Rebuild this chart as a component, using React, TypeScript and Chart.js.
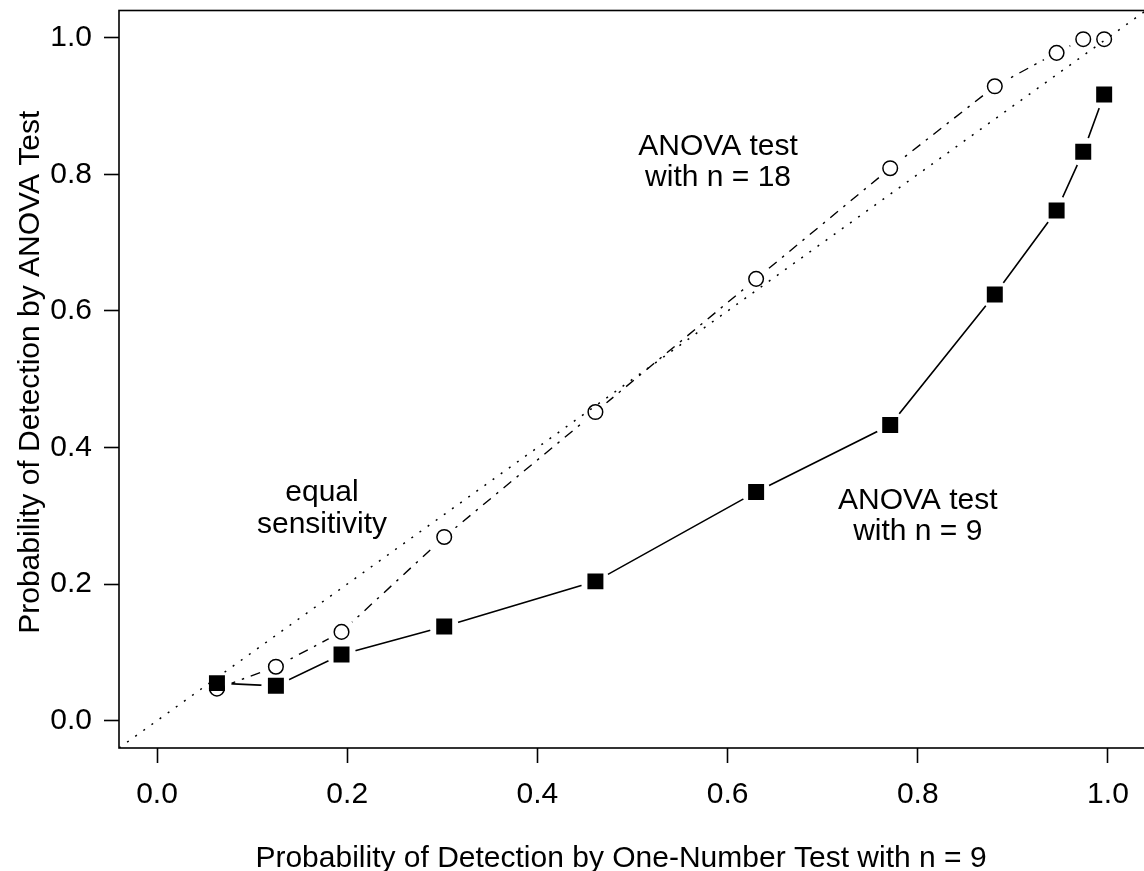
import React, { useEffect, useRef } from "react";
import { Chart, registerables } from "chart.js";

Chart.register(...registerables);

// ---- data ----
const oneNumberN9 = [0.063, 0.125, 0.194, 0.302, 0.461, 0.630, 0.771, 0.881, 0.946, 0.974, 0.996];
const anovaN9 = [0.055, 0.051, 0.097, 0.138, 0.204, 0.335, 0.433, 0.624, 0.747, 0.833, 0.917];
const anovaN18 = [0.047, 0.079, 0.130, 0.269, 0.452, 0.647, 0.809, 0.929, 0.978, 0.998, 0.998];
const xTickValues = [0, 0.2, 0.4, 0.6, 0.8, 1.0];
const yTickValues = [0, 0.2, 0.4, 0.6, 0.8, 1.0];
const axisMin = -0.04;
const axisMax = 1.04;
const equalLine = [axisMin, axisMax];
const xTitle = "Probability of Detection by One-Number Test with n = 9";
const yTitle = "Probability of Detection by ANOVA Test";
const labelN18 = ["ANOVA test", "with n = 18"];
const labelN9 = ["ANOVA test", "with n = 9"];
const labelEqual = ["equal", "sensitivity"];

const FONT = '"Liberation Sans", Arial, Helvetica, sans-serif';
const SHIFT = 4; // canvas is placed 4px above the page top

export default function App() {
  const ref = useRef<HTMLCanvasElement | null>(null);

  useEffect(() => {
    const canvas = ref.current;
    if (!canvas) return;

    const toPts = (xs: number[], ys: number[]) => xs.map((x, i) => ({ x, y: ys[i] }));

    const annotations = [
      { lines: labelN18, x: 0.590, y: 0.821 },
      { lines: labelN9, x: 0.800, y: 0.303 },
      { lines: labelEqual, x: 0.1735, y: 0.314 },
    ];

    const framePlugin = {
      id: "frameAndText",
      afterDraw(chart: any) {
        const { ctx, chartArea: a, scales } = chart;
        ctx.save();
        ctx.strokeStyle = "#000";
        ctx.lineWidth = 1.6;
        ctx.strokeRect(a.left, a.top, a.right - a.left, a.bottom - a.top);

        ctx.fillStyle = "#000";
        ctx.font = `30px ${FONT}`;
        ctx.textAlign = "center";
        ctx.textBaseline = "alphabetic";
        const lineGap = 31.5;
        for (const ann of annotations) {
          const cx = scales.x.getPixelForValue(ann.x);
          const cy = scales.y.getPixelForValue(ann.y);
          const n = ann.lines.length;
          ann.lines.forEach((t: string, i: number) => {
            ctx.fillText(t, cx, cy + (i - (n - 1) / 2) * lineGap + 10.7);
          });
        }

        ctx.fillText(xTitle, 621, 867 + SHIFT);
        ctx.save();
        ctx.translate(39, (a.top + a.bottom) / 2 - 7);
        ctx.rotate(-Math.PI / 2);
        ctx.fillText(yTitle, 0, 0);
        ctx.restore();
        ctx.restore();
      },
    };

    const tickFont = { family: FONT, size: 30 };

    const chart = new Chart(canvas, {
      type: "scatter",
      data: {
        datasets: [
          {
            label: "n18 markers",
            data: toPts(oneNumberN9, anovaN18),
            showLine: false,
            pointStyle: "circle",
            pointRadius: 7.3,
            borderWidth: 1.5,
            borderColor: "#000",
            backgroundColor: "rgba(0,0,0,0)",
            order: 1,
          },
          {
            label: "n9 markers",
            data: toPts(oneNumberN9, anovaN9),
            showLine: false,
            pointStyle: "rect",
            pointRadius: 11.3,
            borderWidth: 0,
            borderColor: "#000",
            backgroundColor: "#000",
            order: 2,
          },
          {
            label: "equal sensitivity",
            data: toPts(equalLine, equalLine),
            showLine: true,
            pointRadius: 0,
            borderColor: "#000",
            borderWidth: 1.5,
            borderDash: [2, 8],
            order: 3,
          },
          {
            label: "gap n18",
            data: toPts(oneNumberN9, anovaN18),
            showLine: false,
            pointStyle: "circle",
            pointRadius: 14.5,
            borderWidth: 0,
            backgroundColor: "#fff",
            order: 4,
          },
          {
            label: "gap n9",
            data: toPts(oneNumberN9, anovaN9),
            showLine: false,
            pointStyle: "circle",
            pointRadius: 14.5,
            borderWidth: 0,
            backgroundColor: "#fff",
            order: 4,
          },
          {
            label: "n18 line",
            data: toPts(oneNumberN9, anovaN18),
            showLine: true,
            pointRadius: 0,
            borderColor: "#000",
            borderWidth: 1.4,
            borderDash: [2.5, 7, 10, 7],
            tension: 0,
            order: 5,
          },
          {
            label: "n9 line",
            data: toPts(oneNumberN9, anovaN9),
            showLine: true,
            pointRadius: 0,
            borderColor: "#000",
            borderWidth: 1.6,
            tension: 0,
            order: 6,
          },
        ],
      },
      options: {
        animation: false,
        responsive: false,
        events: [],
        layout: { padding: { left: 0, top: 6, right: 24, bottom: 0 } },
        plugins: { legend: { display: false }, tooltip: { enabled: false }, title: { display: false } },
        scales: {
          x: {
            type: "linear",
            min: axisMin,
            max: axisMax,
            afterBuildTicks: (s: any) => {
              s.ticks = xTickValues.map((v) => ({ value: v }));
            },
            afterFit: (s: any) => {
              s.height = 123;
              s.paddingLeft = 0;
              s.paddingRight = 0;
            },
            grid: {
              display: true,
              drawOnChartArea: false,
              drawTicks: true,
              tickLength: 15,
              tickWidth: 1.6,
              tickColor: "#000",
            },
            border: { display: false },
            ticks: {
              color: "#000",
              font: tickFont,
              padding: 14,
              maxRotation: 0,
              autoSkip: false,
              callback: (v: any) => Number(v).toFixed(1),
            },
          },
          y: {
            type: "linear",
            min: axisMin,
            max: axisMax,
            afterBuildTicks: (s: any) => {
              s.ticks = yTickValues.map((v) => ({ value: v }));
            },
            afterFit: (s: any) => {
              s.width = 119;
              s.paddingTop = 0;
              s.paddingBottom = 0;
            },
            grid: {
              display: true,
              drawOnChartArea: false,
              drawTicks: true,
              tickLength: 15,
              tickWidth: 1.6,
              tickColor: "#000",
            },
            border: { display: false },
            ticks: {
              color: "#000",
              font: tickFont,
              padding: 12,
              autoSkip: false,
              callback: (v: any) => Number(v).toFixed(1),
            },
          },
        },
      },
      plugins: [framePlugin],
    } as any);

    return () => chart.destroy();
  }, []);

  return (
    <div
      style={{
        position: "fixed",
        left: 0,
        top: 0,
        width: 1144,
        height: 871,
        overflow: "hidden",
        background: "#fff",
      }}
    >
      <canvas
        ref={ref}
        width={1170}
        height={875}
        style={{ display: "block", position: "absolute", left: 0, top: -SHIFT }}
      />
    </div>
  );
}
